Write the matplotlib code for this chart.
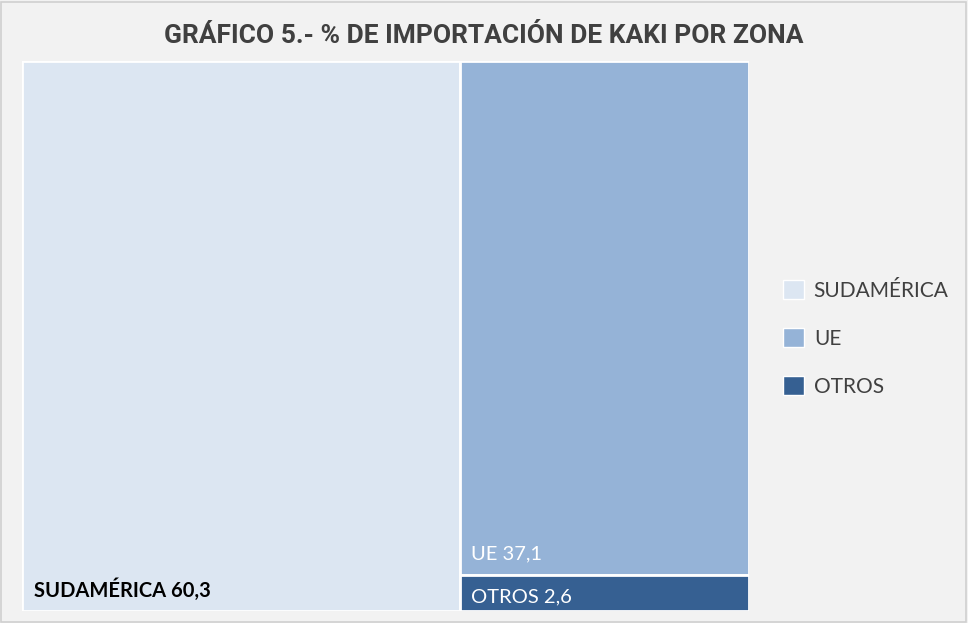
import matplotlib
matplotlib.use("Agg")
import matplotlib.pyplot as plt
from matplotlib.patches import Rectangle

categories = ["SUDAMÉRICA", "UE", "OTROS"]
values = [60.3, 37.1, 2.6]
labels = ["SUDAMÉRICA 60,3", "UE 37,1", "OTROS 2,6"]
colors = ["#DCE6F2", "#95B3D7", "#366092"]
text_colors = ["#000000", "#FFFFFF", "#FFFFFF"]

fig = plt.figure(figsize=(9.68, 6.23), dpi=100, facecolor="#F2F2F2")
fig.patches.append(Rectangle((0.001, 0.002), 0.997, 0.995, transform=fig.transFigure,
                             fill=False, edgecolor="#D0D0D0", linewidth=1.2))
ax = fig.add_axes([0.0227, 0.0193, 0.751, 0.883])
ax.set_xlim(0, 100)
ax.set_ylim(0, 100)
ax.axis("off")

total = sum(values)
w0 = values[0] / total * 100
rest = values[1] + values[2]
h2 = values[2] / rest * 100
rects = [
    (0, 0, w0, 100),
    (w0, h2, 100 - w0, 100 - h2),
    (w0, 0, 100 - w0, h2),
]
font = ["Lato", "DejaVu Sans"]
for (x, y, w, h), c, cat in zip(rects, colors, categories):
    ax.add_patch(Rectangle((x, y), w, h, facecolor=c, edgecolor="white", linewidth=2, label=cat))

ax.text(rects[0][0] + 1.7, 2.5, labels[0], color=text_colors[0], fontweight="bold",
        fontsize=14.5, family=font, va="baseline")
ax.text(rects[1][0] + 1.5, rects[1][1] + 2.9, labels[1], color=text_colors[1],
        fontsize=14.5, family=font, va="baseline")
ax.text(rects[2][0] + 1.5, 1.5, labels[2], color=text_colors[2],
        fontsize=14.5, family=font, va="baseline")

fig.text(0.5, 0.943, "GRÁFICO 5.- % DE IMPORTACIÓN DE KAKI POR ZONA", ha="center", va="center",
         fontsize=19, fontweight="bold", color="#404040", family=["Roboto", "DejaVu Sans"])

handles = [Rectangle((0, 0), 1, 1, facecolor=c, edgecolor="white", linewidth=1) for c in colors]
leg = fig.legend(handles, categories, loc="center left", bbox_to_anchor=(0.789, 0.457),
                 frameon=False, prop={"family": font, "size": 15}, labelcolor="#404040",
                 handlelength=1.05, handleheight=1.05, handletextpad=0.45, labelspacing=1.3)

fig.savefig("out.png", dpi=100, facecolor=fig.get_facecolor())
